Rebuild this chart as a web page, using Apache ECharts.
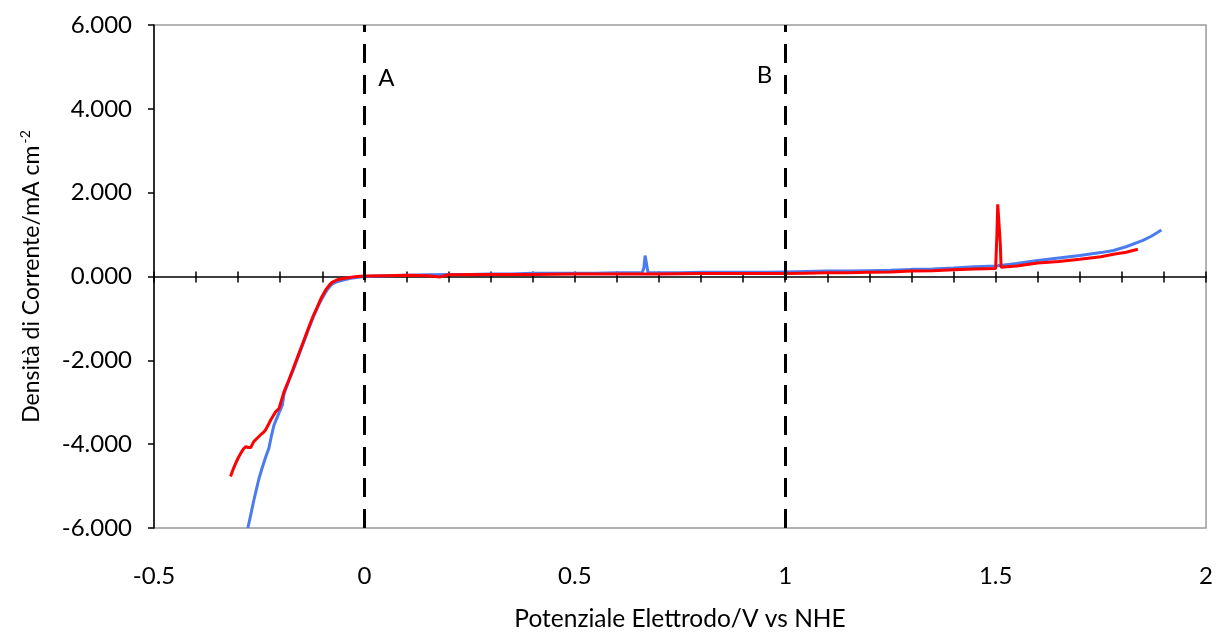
<!DOCTYPE html>
<html>
<head>
<meta charset="utf-8">
<script src="https://cdn.jsdelivr.net/npm/echarts@6/dist/echarts.min.js"></script>
<style>
html,body{margin:0;padding:0;background:#fff;}
#chart{width:1216px;height:637px;}
</style>
</head>
<body>
<div id="chart"></div>
<script>
// ---- data ----
const seriesNames = ['Blu', 'Rosso'];
const blueData = [
  [-0.277,-6.0],[-0.270,-5.68],[-0.263,-5.35],[-0.256,-5.05],[-0.250,-4.8],[-0.243,-4.57],
  [-0.235,-4.32],[-0.227,-4.1],[-0.221,-3.8],[-0.215,-3.55],[-0.205,-3.3],[-0.195,-3.07],
  [-0.191,-2.8],[-0.180,-2.5],[-0.168,-2.2],[-0.156,-1.88],[-0.144,-1.56],[-0.132,-1.24],
  [-0.120,-0.93],[-0.108,-0.66],[-0.097,-0.46],[-0.087,-0.3],[-0.077,-0.18],[-0.067,-0.13],
  [-0.057,-0.1],[-0.045,-0.07],[-0.033,-0.04],[-0.015,-0.02],[0,0],
  [0.03,0.01],[0.06,0.02],[0.1,0.03],[0.15,0.04],[0.2,0.05],[0.25,0.05],[0.3,0.06],[0.35,0.06],
  [0.4,0.08],[0.45,0.08],[0.5,0.08],[0.55,0.08],[0.6,0.09],[0.66,0.09],[0.664,0.2],[0.667,0.5],
  [0.671,0.48],[0.674,0.09],[0.7,0.09],[0.75,0.09],[0.8,0.1],[0.85,0.1],[0.9,0.1],[0.95,0.1],
  [1.0,0.11],[1.05,0.12],[1.1,0.13],[1.15,0.13],[1.2,0.14],[1.25,0.15],[1.3,0.17],[1.35,0.18],
  [1.4,0.2],[1.45,0.23],[1.5,0.25],[1.55,0.31],[1.6,0.38],[1.65,0.44],[1.7,0.5],[1.75,0.57],
  [1.78,0.62],[1.81,0.71],[1.85,0.86],[1.87,0.96],[1.894,1.11]
];
const redData = [
  [-0.318,-4.77],[-0.312,-4.6],[-0.306,-4.46],[-0.300,-4.33],[-0.294,-4.22],[-0.288,-4.12],
  [-0.282,-4.06],[-0.276,-4.08],[-0.270,-4.08],[-0.263,-3.94],[-0.255,-3.86],[-0.247,-3.78],
  [-0.240,-3.72],[-0.235,-3.66],[-0.229,-3.55],[-0.223,-3.43],[-0.217,-3.33],[-0.211,-3.23],
  [-0.203,-3.15],[-0.197,-2.95],[-0.191,-2.75],[-0.180,-2.48],[-0.170,-2.22],[-0.158,-1.9],
  [-0.146,-1.58],[-0.134,-1.26],[-0.122,-0.95],[-0.112,-0.73],[-0.102,-0.5],[-0.092,-0.32],
  [-0.083,-0.2],[-0.077,-0.14],[-0.067,-0.09],[-0.057,-0.06],[-0.04,-0.03],[-0.017,0],
  [0,0.01],[0.05,0.02],[0.1,0.03],[0.15,0.02],[0.18,-0.01],[0.2,0.04],[0.3,0.05],[0.4,0.05],
  [0.5,0.06],[0.6,0.06],[0.7,0.06],[0.8,0.07],[0.9,0.07],[1.0,0.07],[1.05,0.08],[1.1,0.09],
  [1.15,0.09],[1.2,0.1],[1.25,0.11],[1.3,0.13],[1.35,0.14],[1.4,0.16],[1.45,0.18],[1.5,0.19],
  [1.503,1.0],[1.505,1.72],[1.508,1.72],[1.511,0.8],[1.513,0.22],[1.55,0.25],[1.6,0.32],
  [1.65,0.36],[1.7,0.41],[1.75,0.47],[1.78,0.53],[1.81,0.58],[1.838,0.65]
];
const refLinesX = [0, 1];
const refLabels = ['A', 'B'];
const refLabelCoords = [[0.052, 4.74], [0.951, 4.80]];
const xTickLabels = ['-0.5', '0', '0.5', '1', '1.5', '2'];
const yTickLabels = ['-6.000', '-4.000', '-2.000', '0.000', '2.000', '4.000', '6.000'];
const xTitle = 'Potenziale Elettrodo/V vs NHE';
const yTitle = 'Densità di Corrente/mA cm{sup|-2}';

// ---- chart ----
const FONT = 'Lato';
const GRID_TOP = 25, GRID_BOTTOM = 107, H = 637;
const zeroOffset = -((H - GRID_BOTTOM - GRID_TOP) / 2); // top axis moved down to y = 0
const chart = echarts.init(document.getElementById('chart'), null, {renderer: 'canvas'});
const xBase = {type: 'value', min: -0.5, max: 2, splitLine: {show: false}};
const option = {
  animation: false,
  backgroundColor: '#fff',
  textStyle: {fontFamily: FONT, color: '#000'},
  grid: {left: 154, right: 8, top: GRID_TOP, bottom: GRID_BOTTOM, show: true, borderColor: '#9a9a9a', borderWidth: 1.5, containLabel: false},
  xAxis: [
    Object.assign({}, xBase, {
      position: 'bottom', interval: 0.1,
      axisLine: {show: true, onZero: true, lineStyle: {color: '#000', width: 1.5}},
      axisTick: {show: true, length: 6, lineStyle: {color: '#000', width: 1.5}},
      axisLabel: {show: false}
    }),
    Object.assign({}, xBase, {
      position: 'top', interval: 0.1, offset: zeroOffset,
      axisLine: {show: false, onZero: false},
      axisTick: {show: true, length: 6, lineStyle: {color: '#000', width: 1.5}},
      axisLabel: {show: false}
    }),
    Object.assign({}, xBase, {
      position: 'bottom', interval: 0.5,
      axisLine: {show: false, onZero: false},
      axisTick: {show: false},
      axisLabel: {show: true, margin: 36, fontSize: 24, fontFamily: FONT, color: '#000',
        formatter: v => xTickLabels[Math.round((v + 0.5) / 0.5)] ?? ''},
      name: xTitle, nameLocation: 'middle', nameGap: 79,
      nameTextStyle: {fontSize: 24.5, fontFamily: FONT, color: '#000'}
    })
  ],
  yAxis: {
    type: 'value', min: -6, max: 6, interval: 2,
    splitLine: {show: false},
    axisLine: {show: true, onZero: false, lineStyle: {color: '#000', width: 1.5}},
    axisTick: {show: true, length: 6, lineStyle: {color: '#000', width: 1.5}},
    axisLabel: {margin: 22, fontSize: 24, fontFamily: FONT, color: '#000',
      formatter: v => yTickLabels[Math.round((v + 6) / 2)] ?? ''},
    name: yTitle, nameLocation: 'middle', nameGap: 108,
    nameTextStyle: {fontSize: 23, fontFamily: FONT, color: '#000',
      rich: {sup: {fontSize: 14, fontFamily: FONT, color: '#000', verticalAlign: 'top', padding: [0, 0, 14, 2]}}}
  },
  series: [
    {
      name: seriesNames[0], type: 'line', data: blueData, showSymbol: false, xAxisIndex: 0,
      lineStyle: {color: '#4a7cf0', width: 3}, itemStyle: {color: '#4a7cf0'},
      markLine: {
        silent: true, symbol: ['none', 'none'], label: {show: false},
        lineStyle: {color: '#000', width: 3, type: [19, 12]},
        data: refLinesX.map(x => ({xAxis: x}))
      },
      markPoint: {
        silent: true, symbol: 'circle', symbolSize: 0,
        label: {show: true, position: 'inside', formatter: '{b}', fontSize: 24, fontFamily: FONT, color: '#000'},
        data: refLabels.map((t, i) => ({name: t, coord: refLabelCoords[i]}))
      }
    },
    {
      name: seriesNames[1], type: 'line', data: redData, showSymbol: false, xAxisIndex: 0,
      lineStyle: {color: '#ff0000', width: 3}, itemStyle: {color: '#ff0000'}
    }
  ]
};
chart.setOption(option);
</script>
</body>
</html>
